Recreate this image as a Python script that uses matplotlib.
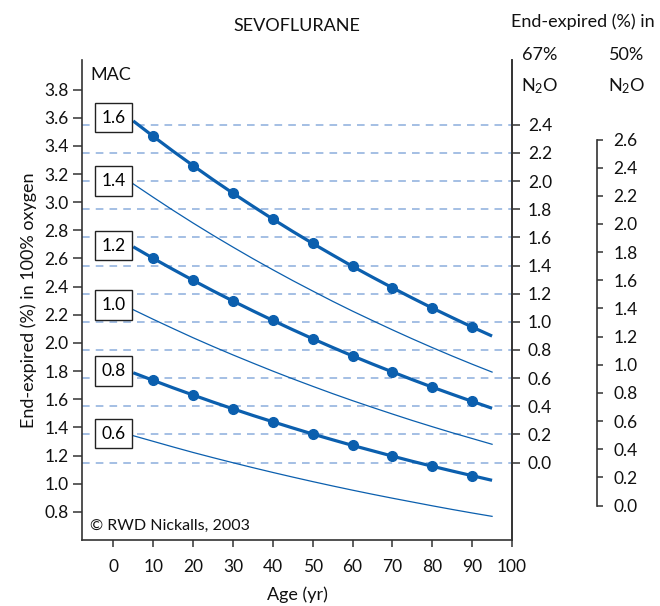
import matplotlib
matplotlib.use("Agg")
import matplotlib.pyplot as plt

plt.rcParams['font.family'] = ['Lato', 'DejaVu Sans']
plt.rcParams['mathtext.default'] = 'regular'

# ---- data ----
ages = [5, 10, 15, 20, 25, 30, 35, 40, 45, 50, 55, 60, 65, 70, 75, 80, 85, 90, 95]
marker_ages = [10, 20, 30, 40, 50, 60, 70, 80, 90]
mac_labels = ["1.6", "1.4", "1.2", "1.0", "0.8", "0.6"]
label_y = [3.60, 3.15, 2.69, 2.27, 1.80, 1.355]
thick = [True, False, True, False, True, False]
curves = [
    [3.577, 3.468, 3.362, 3.260, 3.160, 3.064, 2.971, 2.880, 2.792, 2.707, 2.625, 2.544, 2.467, 2.392, 2.319, 2.248, 2.180, 2.113, 2.049],
    [3.130, 3.035, 2.942, 2.852, 2.765, 2.681, 2.599, 2.520, 2.443, 2.369, 2.296, 2.226, 2.159, 2.093, 2.029, 1.967, 1.907, 1.849, 1.793],
    [2.683, 2.601, 2.522, 2.445, 2.370, 2.298, 2.228, 2.160, 2.094, 2.030, 1.968, 1.908, 1.850, 1.794, 1.739, 1.686, 1.635, 1.585, 1.536],
    [2.236, 2.168, 2.102, 2.037, 1.975, 1.915, 1.857, 1.800, 1.745, 1.692, 1.640, 1.590, 1.542, 1.495, 1.449, 1.405, 1.362, 1.321, 1.280],
    [1.788, 1.734, 1.681, 1.630, 1.580, 1.532, 1.485, 1.440, 1.396, 1.353, 1.312, 1.272, 1.234, 1.196, 1.159, 1.124, 1.090, 1.057, 1.024],
    [1.341, 1.301, 1.261, 1.222, 1.185, 1.149, 1.114, 1.080, 1.047, 1.015, 0.984, 0.954, 0.925, 0.897, 0.870, 0.843, 0.817, 0.792, 0.768],
]
left_ticks = [0.8, 1.0, 1.2, 1.4, 1.6, 1.8, 2.0, 2.2, 2.4, 2.6, 2.8, 3.0, 3.2, 3.4, 3.6, 3.8]
x_ticks = [0, 10, 20, 30, 40, 50, 60, 70, 80, 90, 100]
n2o67_ticks = [0.0, 0.2, 0.4, 0.6, 0.8, 1.0, 1.2, 1.4, 1.6, 1.8, 2.0, 2.2, 2.4]
n2o50_ticks = [0.0, 0.2, 0.4, 0.6, 0.8, 1.0, 1.2, 1.4, 1.6, 1.8, 2.0, 2.2, 2.4, 2.6]
offset67 = 1.15
offset50 = 0.845

W, H = 660, 606
fig = plt.figure(figsize=(W / 100, H / 100), dpi=100)
L, R, B, T = 82, 512, 540, 60
ax = fig.add_axes([L / W, 1 - B / H, (R - L) / W, (B - T) / H])

blue = '#0b5fae'
spc = '#333333'
tc = '#111111'
ylo, yhi = 0.6, 4.01
ax.set_xlim(-7.85, 100)
ax.set_ylim(ylo, yhi)
FS = 12.5

# dashed reference lines at 67% N2O ticks
for t in n2o67_ticks:
    ax.axhline(t + offset67, color='#8caedd', lw=1.1, ls=(0, (5, 4)), zorder=1)

for lab, ly, th, vals in zip(mac_labels, label_y, thick, curves):
    if th:
        ax.plot(ages, vals, color=blue, lw=2.3, zorder=3, solid_capstyle='butt')
        mv = [v for a, v in zip(ages, vals) if a in marker_ages]
        ax.plot(marker_ages, mv, 'o', color=blue, ms=7, zorder=4)
    else:
        ax.plot(ages, vals, color=blue, lw=0.9, zorder=3)
    ax.text(0, ly, lab, ha='center', va='center', fontsize=FS, zorder=5,
            bbox=dict(boxstyle='square,pad=0.38', fc='white', ec='#222222', lw=1.0))

ax.spines['top'].set_visible(False)
for s in ['left', 'bottom', 'right']:
    ax.spines[s].set_color(spc)
    ax.spines[s].set_linewidth(1.2)

ax.set_xticks(x_ticks)
ax.set_yticks(left_ticks)
ax.set_yticklabels([f"{v:.1f}" for v in left_ticks])
ax.tick_params(axis='x', direction='out', length=5, width=1.1, pad=9, labelsize=FS, colors=spc, labelcolor=tc)
ax.tick_params(axis='y', direction='out', length=6.5, width=1.1, pad=3, labelsize=FS, colors=spc, labelcolor=tc)
ax.set_xlabel("Age (yr)", fontsize=FS + 0.5, labelpad=8, color=tc)
ax.set_ylabel("End-expired (%) in 100% oxygen", fontsize=FS + 0.5, labelpad=5, color=tc)

# 67% N2O axis
ax2 = ax.twinx()
ax2.set_ylim(ylo - offset67, yhi - offset67)
ax2.set_yticks(n2o67_ticks)
ax2.set_yticklabels([f"{v:.1f}" for v in n2o67_ticks])
for s in ['top', 'left', 'bottom']:
    ax2.spines[s].set_visible(False)
ax2.spines['right'].set_color(spc)
ax2.spines['right'].set_linewidth(1.2)
ax2.tick_params(axis='y', direction='out', length=5.5, width=1.1, pad=6, labelsize=FS, colors=spc, labelcolor=tc)

# 50% N2O axis
ax3 = ax.twinx()
ax3.set_ylim(ylo - offset50, yhi - offset50)
ax3.set_yticks(n2o50_ticks)
ax3.set_yticklabels([f"{v:.1f}" for v in n2o50_ticks])
for s in ['top', 'left', 'bottom']:
    ax3.spines[s].set_visible(False)
ax3.spines['right'].set_position(('axes', (597 - L) / (R - L)))
ax3.spines['right'].set_bounds(0.0, 2.6)
ax3.spines['right'].set_color(spc)
ax3.spines['right'].set_linewidth(1.2)
ax3.tick_params(axis='y', direction='out', length=4, width=1.1, pad=8, labelsize=FS, colors=spc, labelcolor=tc)

def ftext(x, y, s, **kw):
    fig.text(x / W, 1 - y / H, s, color=tc, **kw)

ftext(297, 26, "SEVOFLURANE", ha='center', va='center', fontsize=FS + 0.5)
ftext(583, 22, "End-expired (%) in", ha='center', va='center', fontsize=FS + 0.5)
ftext(540, 55, "67%", ha='center', va='center', fontsize=FS + 0.5)
ftext(627, 55, "50%", ha='center', va='center', fontsize=FS + 0.5)
ftext(540, 86, "N$_2$O", ha='center', va='center', fontsize=FS + 0.5)
ftext(627, 86, "N$_2$O", ha='center', va='center', fontsize=FS + 0.5)
ftext(90, 75, "MAC", ha='left', va='center', fontsize=FS + 0.5)
ftext(90, 526, "© RWD Nickalls, 2003", ha='left', va='center', fontsize=11.5)

fig.savefig("out.png", dpi=100)
